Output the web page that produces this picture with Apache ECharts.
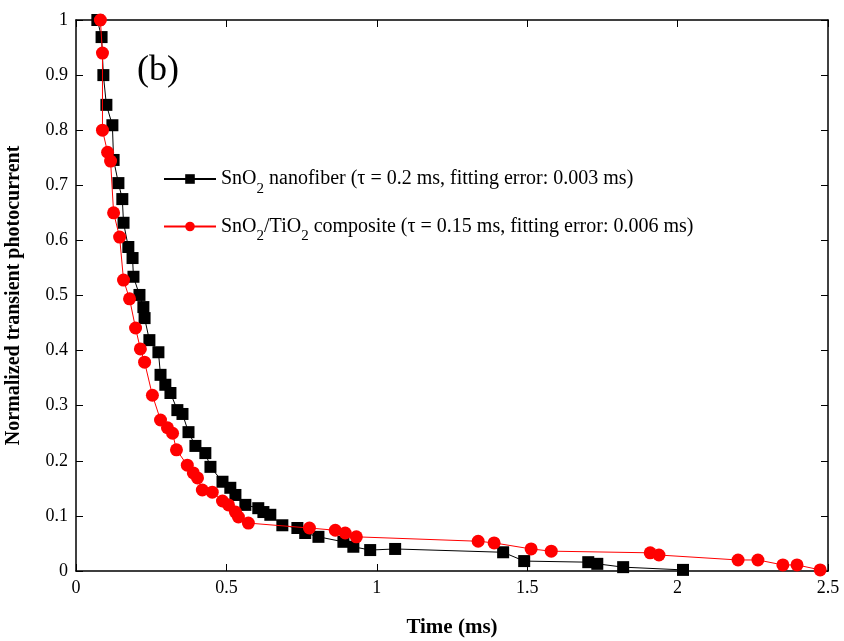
<!DOCTYPE html>
<html><head><meta charset="utf-8">
<script src="https://cdn.jsdelivr.net/npm/echarts@6/dist/echarts.min.js"></script>
<style>html,body{margin:0;padding:0;background:#fff}#c{width:844px;height:641px}</style>
</head><body><div id="c"></div>
<script>
const nanofiberX = [0.071,0.085,0.091,0.101,0.121,0.125,0.141,0.154,0.158,0.174,0.188,0.191,0.211,0.224,0.228,0.244,0.274,0.281,0.297,0.314,0.337,0.354,0.374,0.397,0.430,0.447,0.487,0.513,0.530,0.563,0.606,0.623,0.646,0.686,0.736,0.762,0.806,0.889,0.922,0.978,1.061,1.420,1.490,1.703,1.733,1.819,2.018];
const nanofiberY = [1.000,0.969,0.900,0.846,0.809,0.746,0.704,0.675,0.632,0.588,0.568,0.534,0.501,0.479,0.459,0.419,0.397,0.356,0.338,0.323,0.292,0.285,0.252,0.227,0.214,0.189,0.162,0.151,0.138,0.120,0.114,0.107,0.102,0.083,0.078,0.069,0.062,0.053,0.044,0.038,0.040,0.034,0.018,0.016,0.013,0.007,0.002];
const compositeX = [0.081,0.088,0.088,0.105,0.115,0.125,0.145,0.158,0.178,0.198,0.214,0.228,0.254,0.281,0.304,0.321,0.334,0.370,0.390,0.404,0.420,0.453,0.487,0.507,0.530,0.540,0.573,0.776,0.862,0.895,0.932,1.337,1.390,1.513,1.580,1.909,1.938,2.201,2.267,2.350,2.397,2.474];
const compositeY = [1.000,0.940,0.800,0.760,0.744,0.650,0.606,0.528,0.494,0.441,0.403,0.379,0.319,0.274,0.260,0.250,0.220,0.192,0.178,0.169,0.147,0.143,0.127,0.120,0.107,0.098,0.087,0.078,0.074,0.069,0.062,0.054,0.051,0.040,0.036,0.033,0.029,0.020,0.020,0.011,0.011,0.002];
const seriesNames = ['SnO2 nanofiber','SnO2/TiO2 composite'];
const legendTexts = {
  'SnO2 nanofiber': 'SnO{sub|2} nanofiber (\u03c4 = 0.2 ms, fitting error: 0.003 ms)',
  'SnO2/TiO2 composite': 'SnO{sub|2}/TiO{sub|2} composite (\u03c4 = 0.15 ms, fitting error: 0.006 ms)'
};
const xTicks = [0,0.5,1,1.5,2,2.5];
const yTicks = [0,0.1,0.2,0.3,0.4,0.5,0.6,0.7,0.8,0.9,1];

const zip = (a,b)=>a.map((v,i)=>[v,b[i]]);
const FONT = '"Liberation Serif", "DejaVu Serif", serif';
const fmt = v => (Math.round(v*10)/10).toString();

const chart = echarts.init(document.getElementById('c'), null, {renderer:'canvas'});
const axisCommon = {
  axisLine:{show:true,onZero:false,lineStyle:{color:'#000',width:1.5}},
  axisTick:{show:true,inside:true,length:7,lineStyle:{color:'#000',width:1}},
  splitLine:{show:false}
};
chart.setOption({
  animation:false,
  backgroundColor:'#fff',
  grid:{left:76,right:16,top:20,bottom:70,containLabel:false,outerBoundsMode:'none'},
  xAxis:[
    Object.assign({type:'value',min:0,max:2.5,interval:0.5,position:'bottom',
      name:'Time (ms)',nameLocation:'middle',nameGap:46,
      nameTextStyle:{fontFamily:FONT,fontSize:21,fontWeight:'bold',color:'#000'},
      axisLabel:{fontFamily:FONT,fontSize:18,color:'#000',margin:8,formatter:fmt,showMaxLabel:true}},axisCommon),
    Object.assign({type:'value',min:0,max:2.5,interval:0.5,position:'top',axisLabel:{show:false}},axisCommon)
  ],
  yAxis:[
    Object.assign({type:'value',min:0,max:1,interval:0.1,position:'left',
      name:'Normalized transient photocurrent',nameLocation:'middle',nameGap:52,
      nameTextStyle:{fontFamily:FONT,fontSize:20,fontWeight:'bold',color:'#000'},
      axisLabel:{fontFamily:FONT,fontSize:18,color:'#000',margin:8,formatter:fmt}},axisCommon),
    Object.assign({type:'value',min:0,max:1,interval:0.1,position:'right',axisLabel:{show:false}},axisCommon)
  ],
  legend:{
    orient:'vertical',left:158,top:164,itemGap:20,itemWidth:52,itemHeight:12,
    data:seriesNames,
    formatter:name=>legendTexts[name],
    textStyle:{fontFamily:FONT,fontSize:20,color:'#000',
      rich:{sub:{fontFamily:FONT,fontSize:15,color:'#000',verticalAlign:'bottom',padding:[20,0,0,0]}}}
  },
  graphic:[{type:'text',left:137,top:53,style:{text:'(b)',font:'36px "Liberation Serif", serif',fill:'#000'}}],
  series:[
    {name:seriesNames[0],type:'line',data:zip(nanofiberX,nanofiberY),symbol:'rect',symbolSize:12,
      itemStyle:{color:'#000'},lineStyle:{color:'#000',width:1},z:3},
    {name:seriesNames[1],type:'line',data:zip(compositeX,compositeY),symbol:'circle',symbolSize:13,
      itemStyle:{color:'#ff0000'},lineStyle:{color:'#ff0000',width:1},z:4}
  ]
});
</script></body></html>
